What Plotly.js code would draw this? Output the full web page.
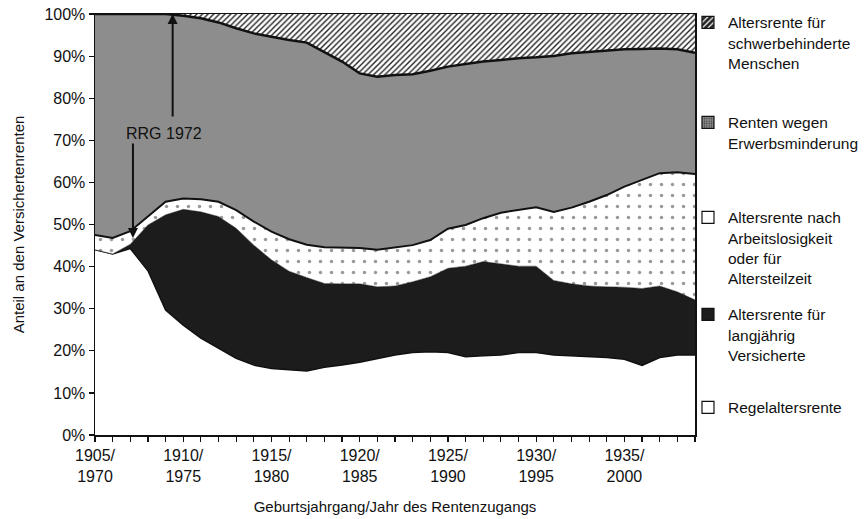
<!DOCTYPE html>
<html>
<head>
<meta charset="utf-8">
<script src="https://cdn.plot.ly/plotly-3.0.1.min.js"></script>
<style>
  html, body { margin: 0; padding: 0; background: #fff; }
  #chart { width: 867px; height: 519px; }
</style>
</head>
<body>
<div id="chart"></div>
<script>
// Geburtsjahrgänge 1905 ... 1939
const years = [1905,1906,1907,1908,1909,1910,1911,1912,1913,1914,1915,1916,1917,1918,1919,1920,1921,1922,1923,1924,1925,1926,1927,1928,1929,1930,1931,1932,1933,1934,1935,1936,1937,1938,1939];

// Anteile in %
const regelaltersrente = [44.0,43.0,44.3,39.0,29.7,26.1,23.0,20.6,18.2,16.6,15.8,15.5,15.2,16.1,16.6,17.3,18.2,19.0,19.6,19.8,19.6,18.6,18.8,19.0,19.6,19.6,19.0,18.8,18.6,18.4,18.0,16.5,18.4,19.0,19.0];
const langjaehrig      = [0.0,0.0,1.0,10.9,22.6,27.5,30.0,31.3,30.9,28.5,25.8,23.4,22.2,19.9,19.3,18.6,17.0,16.4,16.8,17.8,20.0,21.5,22.4,21.7,20.5,20.5,17.7,17.1,16.8,16.8,17.1,18.3,17.0,15.0,13.1];
const arbeitslos       = [3.5,3.8,3.1,2.0,3.1,2.6,3.0,3.5,4.3,5.6,6.7,7.6,7.8,8.6,8.6,8.5,8.8,9.2,8.7,8.7,9.4,9.8,10.3,12.1,13.3,14.0,16.3,18.1,20.0,21.8,23.9,25.8,26.8,28.4,29.9];
const erwerbsminderung = [52.5,53.2,51.6,48.1,44.6,43.4,43.0,42.6,43.2,44.7,46.3,47.3,48.0,46.4,44.2,41.5,41.1,40.9,40.6,40.2,38.5,38.2,37.2,36.3,36.1,35.6,37.0,36.7,35.6,34.4,32.6,31.1,29.6,29.2,28.8];
const schwerbehindert  = [0.0,0.0,0.0,0.0,0.0,0.4,1.0,2.0,3.4,4.6,5.4,6.2,6.8,9.0,11.3,14.1,14.9,14.5,14.3,13.5,12.5,11.9,11.3,10.9,10.5,10.3,10.0,9.3,9.0,8.6,8.4,8.3,8.2,8.4,9.2];

const seriesNames = [
  'Regelaltersrente',
  'Altersrente für<br>langjährig<br>Versicherte',
  'Altersrente nach<br>Arbeitslosigkeit<br>oder für<br>Altersteilzeit',
  'Renten wegen<br>Erwerbsminderung',
  'Altersrente für<br>schwerbehinderte<br>Menschen'
];

const tickYears = [1905,1910,1915,1920,1925,1930,1935];
const tickText  = ['1905/<br>1970','1910/<br>1975','1915/<br>1980','1920/<br>1985','1925/<br>1990','1930/<br>1995','1935/<br>2000'];

const FONT = 'Liberation Sans, Arial, Helvetica, sans-serif';

const styles = [
  { line: {color:'#111', width:1.5}, fillcolor:'#ffffff', fillpattern:null,
    legPattern:{shape:''}, legColor:'#ffffff' },
  { line: {color:'#1a1a1a', width:0.5}, fillcolor:'#1c1c1c', fillpattern:null,
    legPattern:{shape:''}, legColor:'#1c1c1c' },
  { line: {color:'#111', width:2}, fillcolor:'#ffffff',
    fillpattern:{shape:'.', fgcolor:'#9a9a9a', bgcolor:'#ffffff', size:11, solidity:0.08},
    legPattern:{shape:''}, legColor:'#ffffff' },
  { line: {color:'#111', width:2.5}, fillcolor:'#9c9c9c',
    fillpattern:{shape:'.', fgcolor:'#707070', bgcolor:'#a4a4a4', size:2, solidity:0.5},
    legPattern:{shape:'.', fgcolor:'#444', bgcolor:'#aaa', size:3, solidity:0.5}, legColor:'#999' },
  { line: {color:'#111', width:0}, fillcolor:'#ffffff',
    fillpattern:{shape:'/', fgcolor:'#222222', bgcolor:'#ffffff', size:4, solidity:0.35},
    legPattern:{shape:'/', fgcolor:'#ffffff', bgcolor:'#222', size:5, solidity:0.3}, legColor:'#222' }
];

const values = [regelaltersrente, langjaehrig, arbeitslos, erwerbsminderung, schwerbehindert];

const traces = [];
values.forEach((v, i) => {
  const t = {
    type: 'scatter', mode: 'lines', x: years, y: v,
    stackgroup: 'one', line: styles[i].line, fillcolor: styles[i].fillcolor,
    showlegend: false, hoverinfo: 'skip'
  };
  if (styles[i].fillpattern) t.fillpattern = styles[i].fillpattern;
  traces.push(t);
});

// legend entries (one legend per entry, placed like the original)
const legendKeys = ['legend5','legend4','legend3','legend2','legend'];
values.forEach((v, i) => {
  traces.push({
    type: 'bar', x: [null], y: [null], name: seriesNames[i],
    legend: legendKeys[i], showlegend: true, hoverinfo: 'skip',
    marker: { color: styles[i].legColor, line: {color:'#111', width:1.2}, pattern: styles[i].legPattern }
  });
});

const legendBase = {
  x: 0.9883, xanchor: 'left', yanchor: 'top', valign: 'top',
  bgcolor: 'rgba(0,0,0,0)', borderwidth: 0,
  font: {family: FONT, size: 15.5, color: '#111'}
};
const legendYs = [1.0195, 0.7819, 0.5563, 0.3259, 0.1050];

const layout = {
  width: 867, height: 519,
  margin: {l: 95, r: 172, t: 14, b: 84, autoexpand: false},
  paper_bgcolor: '#ffffff', plot_bgcolor: '#ffffff',
  font: {family: FONT, color: '#111'},
  hovermode: false,
  xaxis: {
    type: 'linear', range: [1905, 1939],
    tickmode: 'array', tickvals: tickYears, ticktext: tickText,
    ticks: 'outside', ticklen: 5, tickwidth: 1.2, tickcolor: '#111',
    minor: {ticks: 'outside', ticklen: 5, tickwidth: 1.2, tickcolor: '#111', dtick: 1, tick0: 1905, showgrid: false},
    showline: true, linecolor: '#111', linewidth: 1.5, mirror: true,
    showgrid: false, zeroline: false,
    tickfont: {family: FONT, size: 16, color: '#111'},
    title: {text: 'Geburtsjahrgang/Jahr des Rentenzugangs', font: {family: FONT, size: 15, color: '#111'}, standoff: 18}
  },
  yaxis: {
    range: [0, 100], tickmode: 'array',
    tickvals: [0,10,20,30,40,50,60,70,80,90,100],
    ticktext: ['0%','10%','20%','30%','40%','50%','60%','70%','80%','90%','100%'],
    ticks: 'outside', ticklen: 5, tickwidth: 1.2, tickcolor: '#111',
    showline: true, linecolor: '#111', linewidth: 1.5, mirror: true,
    showgrid: false, zeroline: false,
    tickfont: {family: FONT, size: 16, color: '#111'},
    title: {text: 'Anteil an den Versichertenrenten', font: {family: FONT, size: 15, color: '#111'}, standoff: 16}
  },
  annotations: [
    {x: 1908.9, y: 71.7, xref: 'x', yref: 'y', text: 'RRG 1972', showarrow: false,
     font: {family: FONT, size: 16, color: '#111'}},
    {x: 1909.4, y: 100, xref: 'x', yref: 'y', ax: 1909.4, ay: 75.3, axref: 'x', ayref: 'y',
     text: '', showarrow: true, arrowhead: 2, arrowsize: 1, arrowwidth: 2, arrowcolor: '#111', standoff: 0, startstandoff: 0},
    {x: 1907.15, y: 46.8, xref: 'x', yref: 'y', ax: 1907.15, ay: 69.6, axref: 'x', ayref: 'y',
     text: '', showarrow: true, arrowhead: 2, arrowsize: 1, arrowwidth: 2, arrowcolor: '#111', standoff: 0, startstandoff: 0}
  ]
};
['legend','legend2','legend3','legend4','legend5'].forEach((k, i) => {
  layout[k] = Object.assign({}, legendBase, {y: legendYs[i]});
});

Plotly.newPlot('chart', traces, layout, {staticPlot: true, displayModeBar: false});
</script>
</body>
</html>
